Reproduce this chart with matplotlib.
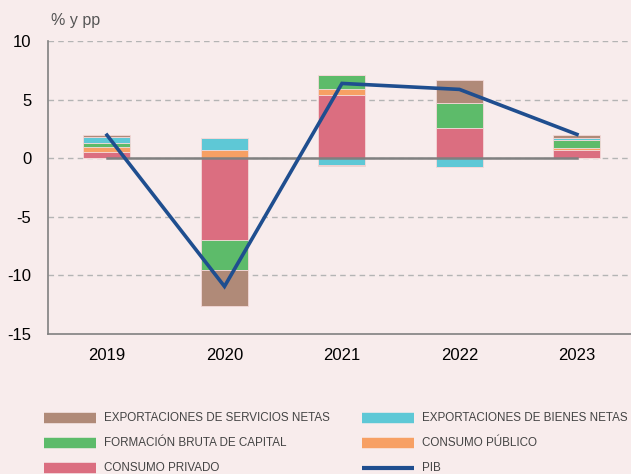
import numpy as np
import matplotlib.pyplot as plt
from matplotlib.lines import Line2D

plt.rcParams['font.family'] = ['Liberation Sans', 'DejaVu Sans']

# Data
years = ["2019", "2020", "2021", "2022", "2023"]
consumo_privado = [0.50, -6.95, 5.38, 2.56, 0.71]
consumo_publico = [0.43, 0.74, 0.51, 0.00, 0.17]
fbc = [0.40, -2.62, 1.17, 2.14, 0.68]
export_bienes = [0.45, 1.00, -0.57, -0.74, 0.15]
export_servicios = [0.17, -3.02, -0.11, 1.94, 0.28]
pib = [1.97, -10.94, 6.38, 5.87, 2.03]

BG = "#f8ecec"
C_SERV = "#b08a78"
C_BIEN = "#5ec8d6"
C_FBC = "#5dbb6a"
C_PUB = "#f7a064"
C_PRIV = "#db6e80"
C_PIB = "#1f4e8f"
SPINE = "#808080"

W, H = 631, 474
fig = plt.figure(figsize=(W / 100, H / 100), dpi=100, facecolor=BG)
ax = fig.add_axes([48 / W, 1 - 334 / H, 583 / W, 293 / H])
ax.set_facecolor(BG)

x = np.arange(len(years))
width = 0.4

series = [
    (consumo_privado, C_PRIV),
    (consumo_publico, C_PUB),
    (fbc, C_FBC),
    (export_bienes, C_BIEN),
    (export_servicios, C_SERV),
]

pos_base = np.zeros(len(years))
neg_base = np.zeros(len(years))
for vals, color in series:
    vals = np.array(vals)
    pos = np.where(vals > 0, vals, 0)
    neg = np.where(vals < 0, vals, 0)
    ax.bar(x, pos, width, bottom=pos_base, color=color,
           edgecolor="#f3d8d8", linewidth=0.6, zorder=3)
    ax.bar(x, neg, width, bottom=neg_base, color=color,
           edgecolor="#f3d8d8", linewidth=0.6, zorder=3)
    pos_base += pos
    neg_base += neg

# grid
for yv in [10, 5, 0, -5, -10]:
    ax.axhline(yv, color="#b4b4b4", linestyle=(0, (4, 3)), linewidth=1.0, zorder=1)
# solid zero line between first and last category
ax.plot([x[0], x[-1]], [0, 0], color=SPINE, linewidth=1.8, zorder=4)

ax.plot(x, pib, color=C_PIB, linewidth=2.6, zorder=5, solid_joinstyle="miter")

ax.set_ylim(-15, 10)
ax.set_xlim(-0.502, 4.46)
ax.set_yticks([10, 5, 0, -5, -10, -15])
ax.set_yticklabels(["10", "5", "0", "-5", "-10", "-15"])
ax.set_xticks(x)
ax.set_xticklabels(years)
ax.tick_params(axis="both", length=0, labelsize=12, colors="black")
ax.tick_params(axis="y", pad=12)
ax.tick_params(axis="x", pad=10)

for side in ["top", "right"]:
    ax.spines[side].set_visible(False)
for side in ["left", "bottom"]:
    ax.spines[side].set_color(SPINE)
    ax.spines[side].set_linewidth(1.2)

fig.text(51 / W, 1 - 21 / H, "% y pp", fontsize=11.5, color="#555555",
         va="center", ha="left")

# legend, drawn by hand in two columns
legend_items = [
    ("EXPORTACIONES DE SERVICIOS NETAS", C_SERV, 7.5, 0, 0),
    ("EXPORTACIONES DE BIENES NETAS", C_BIEN, 7.5, 0, 1),
    ("FORMACIÓN BRUTA DE CAPITAL", C_FBC, 7.5, 1, 0),
    ("CONSUMO PÚBLICO", C_PUB, 7.5, 1, 1),
    ("CONSUMO PRIVADO", C_PRIV, 7.5, 2, 0),
    ("PIB", C_PIB, 3.0, 2, 1),
]
col_x = [44, 362]
row_y = [418, 443, 468]
for label, color, lw, row, col in legend_items:
    x0 = col_x[col]
    y0 = 1 - row_y[row] / H
    fig.add_artist(Line2D([x0 / W, (x0 + 52) / W], [y0, y0], color=color,
                          linewidth=lw, solid_capstyle="butt",
                          transform=fig.transFigure))
    fig.text((x0 + 60) / W, y0, label, fontsize=8.4, color="#444444",
             va="center", ha="left")

fig.savefig("out.png", dpi=100, facecolor=BG)
